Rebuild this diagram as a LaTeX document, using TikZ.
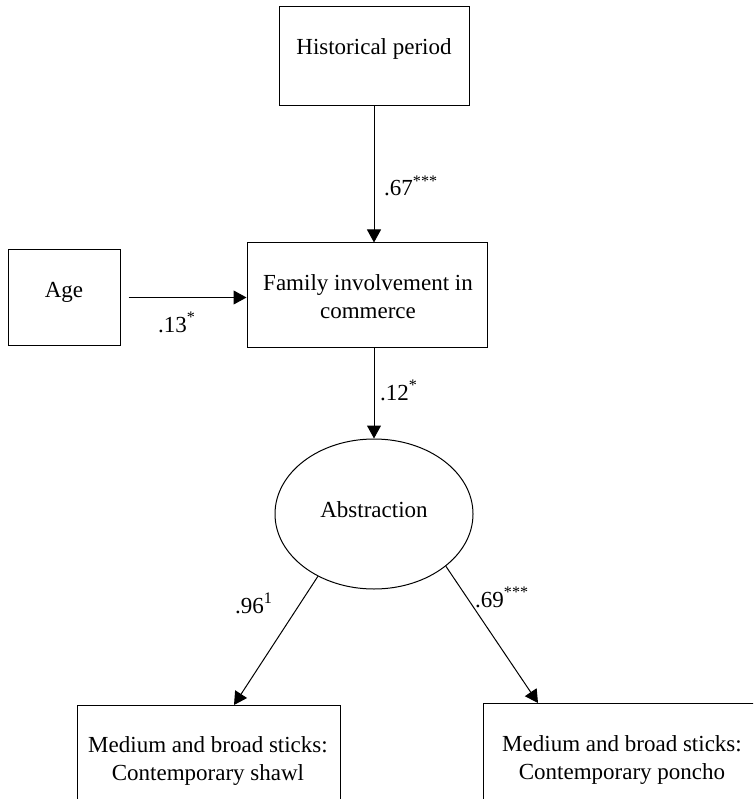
\documentclass[tikz,border=0pt]{standalone}
\usepackage{fontspec}
\setmainfont{Liberation Serif}
\usetikzlibrary{arrows.meta,shapes.geometric}
\begin{document}
\begin{tikzpicture}[x=1pt,y=-1pt,
  box/.style={draw,line width=1pt,rectangle,inner sep=0pt},
  oval/.style={draw,line width=1pt,ellipse,inner sep=0pt,minimum width=198pt,minimum height=150pt},
  txt/.style={font=\fontsize{23}{27.5}\selectfont,inner sep=0pt,anchor=base,align=center},
  lbl/.style={font=\fontsize{23}{27.5}\selectfont,inner sep=0pt,anchor=base west},
  arrowline/.style={line width=1pt,-{Triangle[length=13pt,width=14pt]}}
]
\useasboundingbox (0,0) rectangle (753,799);
\clip (0,0) rectangle (753,799);
\fill[white] (0,0) rectangle (753,799);

% boxes
\node[box,minimum width=190pt,minimum height=99pt] (hist) at (374,56.5) {};
\node[txt] (histT) at (374,55) {Historical period};

\node[box,minimum width=240pt,minimum height=104pt] (fam) at (367,295) {};
\node[txt] (famT) at (368,318) {Family involvement in\\commerce};

\node[box,minimum width=112pt,minimum height=95pt] (age) at (64,297.5) {};
\node[txt] (ageT) at (64,297) {Age};

\node[oval] (abs) at (374,514) {};
\node[txt] (absT) at (374,517) {Abstraction};

\node[box,minimum width=263pt,minimum height=125pt,anchor=north] (lbox) at (208.5,705) {};
\node[txt] (lboxT) at (208,780) {Medium and broad sticks:\\Contemporary shawl};

\node[box,minimum width=280pt,minimum height=125pt,anchor=north] (rbox) at (623,703) {};
\node[txt] (rboxT) at (622,779) {Medium and broad sticks:\\Contemporary poncho};

% connectors
\draw[arrowline] (hist.south) -- (hist.south |- fam.north);
\draw[arrowline] ([xshift=8pt]age.east) -- (age.east -| fam.west);
\draw[arrowline] (fam.south -| abs.north) -- (abs.north);
\draw[arrowline] (abs.228) -- ([xshift=25.5pt]lbox.north);
\draw[arrowline] (abs.324) -- ([xshift=-85pt]rbox.north);

% labels
\node[lbl] (l67) at (384,196) {.67\textsuperscript{***}};
\node[lbl] (l13) at (158,332) {.13\textsuperscript{*}};
\node[lbl] (l12) at (380,400) {.12\textsuperscript{*}};
\node[lbl] (l96) at (235,613) {.96\textsuperscript{1}};
\node[lbl] (l69) at (475,607) {.69\textsuperscript{***}};
\end{tikzpicture}
\end{document}
